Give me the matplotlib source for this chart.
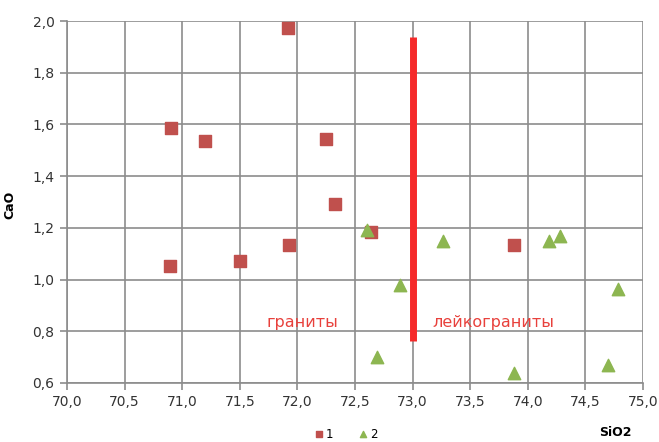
import matplotlib
matplotlib.use('Agg')
import matplotlib.pyplot as plt

# SiO2 / CaO, group 1 (granites) and group 2 (leucogranites)
sio2_1 = [70.9, 71.2, 71.92, 70.89, 71.5, 71.93, 72.25, 72.33, 72.64, 73.88]
cao_1 = [1.585, 1.535, 1.973, 1.053, 1.072, 1.134, 1.544, 1.292, 1.184, 1.134]
sio2_2 = [72.6, 72.89, 72.69, 73.26, 73.88, 74.18, 74.28, 74.78, 74.7]
cao_2 = [1.19, 0.979, 0.70, 1.149, 0.64, 1.149, 1.17, 0.964, 0.67]

# boundary between the two fields
border_x = 73.0
border_y = [0.763, 1.938]

xticks = [70.0, 70.5, 71.0, 71.5, 72.0, 72.5, 73.0, 73.5, 74.0, 74.5, 75.0]
yticks = [0.6, 0.8, 1.0, 1.2, 1.4, 1.6, 1.8, 2.0]

plt.rcParams['font.family'] = ['DejaVu Sans']
fig = plt.figure(figsize=(6.59, 4.42), dpi=100)
ax = fig.add_axes([67 / 659, 1 - 383 / 442, 576 / 659, 362 / 442])

ax.grid(True, color='#8c8c8c', linewidth=1.2)
ax.set_axisbelow(True)

ax.scatter(sio2_1, cao_1, marker='s', s=70, c='#c0504d', label='1', zorder=3)
ax.scatter(sio2_2, cao_2, marker='^', s=80, c='#8db651', label='2', zorder=3)
ax.plot([border_x, border_x], border_y, color='#f52a2a', linewidth=5,
        solid_capstyle='butt', zorder=4)

ax.text(72.04, 0.835, 'граниты', color='#e8413c', fontsize=11.5,
        ha='center', va='center')
ax.text(73.7, 0.835, 'лейкограниты', color='#e8413c', fontsize=11.5,
        ha='center', va='center')

ax.set_xlim(70, 75)
ax.set_ylim(0.6, 2.0)
ax.set_xticks(xticks)
ax.set_yticks(yticks)
ax.set_xticklabels([('%.1f' % t).replace('.', ',') for t in xticks])
ax.set_yticklabels([('%.1f' % t).replace('.', ',') for t in yticks])
ax.tick_params(length=5, width=1.2, color='#8c8c8c', labelsize=10,
               labelcolor='#333333', pad=4)
for s in ['top', 'right']:
    ax.spines[s].set_visible(False)
for s in ['left', 'bottom']:
    ax.spines[s].set_color('#8c8c8c')
    ax.spines[s].set_linewidth(1.2)

fig.text(10 / 659, 1 - 205 / 442, 'CaO', rotation=90, fontsize=9,
         fontweight='bold', ha='center', va='center')
fig.text(615 / 659, 1 - 432 / 442, 'SiO2', fontsize=9, fontweight='bold',
         ha='center', va='center')

fig.legend(loc='center', bbox_to_anchor=(345 / 659, 1 - 434 / 442), ncol=2,
           frameon=False, fontsize=8.5, markerscale=0.5, handletextpad=0.1,
           columnspacing=2.0, handlelength=1.0)

fig.savefig('out.png', dpi=100)
